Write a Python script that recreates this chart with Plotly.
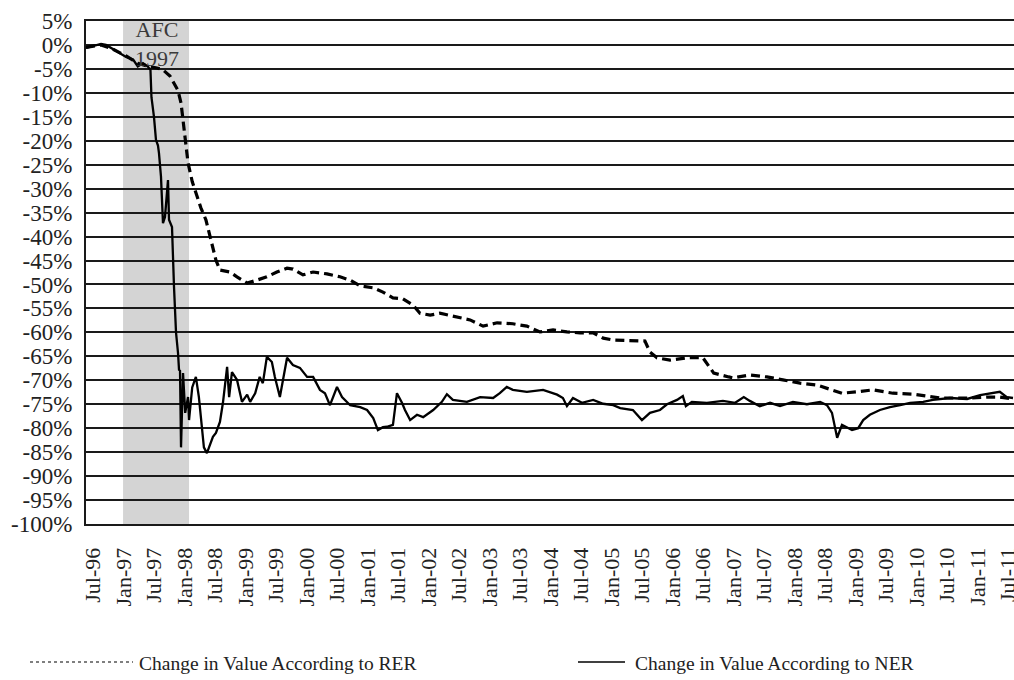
import plotly.graph_objects as go

# ---------------- data ----------------
ner_dates = [
    "1996-05-20", "1996-06-10", "1996-07-05", "1996-08-18", "1996-09-17", "1996-10-23", "1996-12-04",
    "1997-01-15", "1997-02-27", "1997-03-26", "1997-04-26", "1997-05-25", "1997-06-10", "1997-06-16",
    "1997-07-01", "1997-07-13", "1997-07-25", "1997-07-31", "1997-08-12", "1997-08-24", "1997-09-05",
    "1997-09-23", "1997-09-29", "1997-10-17", "1997-10-29", "1997-11-10", "1997-11-22", "1997-11-28",
    "1997-12-04", "1997-12-10", "1997-12-22", "1998-01-04", "1998-01-21", "1998-01-27", "1998-02-15",
    "1998-03-09", "1998-03-27", "1998-04-26", "1998-05-14", "1998-06-19", "1998-07-07", "1998-07-31",
    "1998-08-18", "1998-09-12", "1998-09-24", "1998-10-11", "1998-11-10", "1998-12-10", "1999-01-10",
    "1999-01-28", "1999-02-27", "1999-03-26", "1999-04-14", "1999-05-08", "1999-06-07", "1999-06-25",
    "1999-07-25", "1999-08-12", "1999-09-06", "1999-10-11", "1999-11-22", "2000-01-04", "2000-02-09",
    "2000-03-21", "2000-04-20", "2000-05-20", "2000-07-01", "2000-07-31", "2000-09-18", "2000-11-17",
    "2000-12-28", "2001-02-03", "2001-03-03", "2001-04-02", "2001-04-26", "2001-06-01", "2001-06-25",
    "2001-07-25", "2001-08-12", "2001-09-12", "2001-10-23", "2001-11-29", "2002-01-28", "2002-03-21",
    "2002-04-20", "2002-05-26", "2002-08-18", "2002-11-05", "2003-01-22", "2003-03-03", "2003-04-14",
    "2003-05-20", "2003-08-12", "2003-11-17", "2004-02-09", "2004-03-15", "2004-04-08", "2004-05-14",
    "2004-07-07", "2004-09-12", "2004-11-11", "2005-01-10", "2005-02-21", "2005-05-08", "2005-07-01",
    "2005-08-18", "2005-10-17", "2005-11-28", "2006-01-27", "2006-03-03", "2006-03-21", "2006-04-26",
    "2006-07-25", "2006-10-29", "2007-01-10", "2007-03-03", "2007-04-08", "2007-06-07", "2007-08-07",
    "2007-10-06", "2007-12-22", "2008-03-15", "2008-06-02", "2008-07-13", "2008-08-12", "2008-09-12",
    "2008-10-11", "2008-12-10", "2009-01-16", "2009-02-15", "2009-03-27", "2009-05-26", "2009-07-25",
    "2009-09-24", "2009-11-23", "2010-02-09", "2010-04-08", "2010-07-19", "2010-10-30", "2011-01-16",
    "2011-03-15", "2011-05-14", "2011-06-25", "2011-08-01",
]
ner_values = [
    -0.6, -0.4, -0.2, 0.2, 0.0, -0.8, -1.7,
    -2.5, -3.1, -4.5, -3.8, -4.5, -5.2, -10.9,
    -15.0, -19.8, -21.0, -22.6, -27.5, -37.2, -35.9,
    -28.2, -36.5, -38.0, -50.5, -60.0, -64.3, -67.8,
    -68.0, -84.0, -68.5, -76.8, -73.5, -78.3, -71.5,
    -69.3, -73.5, -84.0, -85.2, -81.8, -81.0, -78.7,
    -74.7, -67.2, -73.5, -68.3, -69.9, -74.5, -73.0,
    -74.5, -72.7, -69.3, -70.6, -65.1, -66.2, -69.3,
    -73.5, -69.9, -65.3, -66.8, -67.4, -69.3, -69.3,
    -72.0, -72.7, -75.2, -71.4, -73.5, -75.2, -75.6,
    -76.2, -77.9, -80.4, -79.8, -79.7, -79.3, -72.7,
    -74.7, -76.2, -78.3, -77.2, -77.7, -76.2, -74.5,
    -72.9, -74.1, -74.5, -73.5, -73.7, -72.7, -71.4,
    -72.0, -72.4, -72.0, -73.0, -73.7, -75.4, -73.7,
    -74.7, -74.1, -74.9, -75.2, -75.8, -76.2, -78.3,
    -76.8, -76.2, -75.0, -74.1, -73.3, -75.4, -74.5,
    -74.7, -74.3, -74.7, -73.5, -74.3, -75.4, -74.7,
    -75.4, -74.5, -75.0, -74.5, -75.2, -76.8, -82.0,
    -79.3, -80.4, -80.0, -78.3, -77.2, -76.2, -75.6,
    -75.2, -74.7, -74.5, -74.1, -73.7, -73.9, -73.1,
    -72.7, -72.4, -73.5, -73.7,
]

rer_dates = [
    "1996-05-20", "1996-08-18", "1996-10-23", "1997-01-15", "1997-03-26", "1997-06-01", "1997-07-19",
    "1997-08-24", "1997-10-05", "1997-10-29", "1997-11-22", "1997-12-10", "1997-12-28", "1998-01-21",
    "1998-02-15", "1998-03-09", "1998-04-08", "1998-05-08", "1998-06-01", "1998-06-19", "1998-07-07",
    "1998-07-31", "1998-09-29", "1998-11-10", "1999-01-10", "1999-03-09", "1999-05-08", "1999-07-07",
    "1999-09-06", "1999-10-11", "1999-12-10", "2000-02-09", "2000-05-02", "2000-07-19", "2000-09-18",
    "2000-11-17", "2001-02-03", "2001-04-02", "2001-06-01", "2001-07-31", "2001-09-29", "2001-11-10",
    "2002-01-10", "2002-03-09", "2002-06-19", "2002-09-06", "2002-11-23", "2003-02-15", "2003-05-20",
    "2003-08-12", "2003-10-29", "2004-01-16", "2004-04-08", "2004-06-25", "2004-09-12", "2004-11-11",
    "2005-01-10", "2005-05-08", "2005-07-19", "2005-08-18", "2005-09-29", "2005-12-16", "2006-03-27",
    "2006-07-01", "2006-07-25", "2006-09-04", "2006-12-03", "2006-12-28", "2007-04-08", "2007-07-19",
    "2007-10-23", "2008-02-03", "2008-05-14", "2008-07-31", "2008-10-11", "2009-01-10", "2009-04-14",
    "2009-08-12", "2009-12-10", "2010-03-03", "2010-05-20", "2010-08-07", "2010-11-17", "2011-02-27",
    "2011-05-14", "2011-08-01",
]
rer_values = [
    -0.5, 0.0, -0.8, -2.3, -3.8, -4.5, -4.8,
    -5.2, -6.5, -7.9, -9.5, -12.1, -17.7, -24.6,
    -28.5, -30.9, -34.0, -36.5, -40.0, -42.8, -44.9,
    -47.0, -47.4, -48.4, -49.7, -49.1, -48.4, -47.4,
    -46.6, -46.8, -48.0, -47.4, -47.8, -48.4, -49.1,
    -50.3, -50.7, -51.6, -52.8, -53.0, -54.3, -56.0,
    -56.4, -56.0, -56.8, -57.4, -58.7, -58.0, -58.2,
    -58.7, -59.9, -59.5, -59.9, -60.1, -60.1, -61.2,
    -61.6, -61.8, -61.8, -64.1, -65.3, -65.8, -65.3,
    -65.3, -66.4, -68.5, -69.3, -69.5, -68.9, -69.3,
    -69.9, -70.6, -71.0, -71.8, -72.7, -72.4, -72.0,
    -72.7, -72.9, -73.3, -73.7, -73.7, -73.7, -73.5,
    -73.5, -73.9,
]

crisis_period = ["1996-12-28", "1998-01-27"]
crisis_label = "AFC<br>1997"

tick_dates = [f"{y}-{m:02d}-01" for y in range(1996, 2012) for m in (1, 7)
              if "1996-07-01" <= f"{y}-{m:02d}-01" <= "2011-07-01"]
tick_labels = [("Jan-" if d[5:7] == "01" else "Jul-") + d[2:4] for d in tick_dates]

y_ticks = list(range(-100, 10, 5))
y_tick_labels = [f"{v}%" for v in y_ticks]

series_names = ["Change in Value According to RER", "Change in Value According to NER"]

# ---------------- layout helpers (pixel -> paper) ----------------
W, H = 1014, 680
L, R, T, B = 86, 0, 21, 156
PW, PH = W - L - R, H - T - B


def px(x):
    return (x - L) / PW


def py(y):
    return (H - B - y) / PH


FONT = "Liberation Serif, Times New Roman, serif"

fig = go.Figure()

fig.add_trace(go.Scatter(
    x=rer_dates, y=rer_values, mode="lines", name=series_names[0],
    line=dict(color="black", width=3.2, dash="9px,5px"), showlegend=False,
))
fig.add_trace(go.Scatter(
    x=ner_dates, y=ner_values, mode="lines", name=series_names[1],
    line=dict(color="black", width=2.3), showlegend=False,
))

# shaded crisis band
fig.add_vrect(x0=crisis_period[0], x1=crisis_period[1], fillcolor="#d4d4d4",
              line_width=0, layer="below")

fig.add_annotation(x=crisis_period[0], xref="x", y=1.0, yref="paper",
                   text=crisis_label, showarrow=False, xanchor="left", yanchor="top",
                   xshift=-1, yshift=6, font=dict(family=FONT, size=22, color="#3a3a3a"),
                   align="center", width=66)

# custom legend at the bottom
fig.add_shape(type="line", xref="paper", yref="paper", x0=px(30), x1=px(133), y0=py(662), y1=py(662),
              line=dict(color="black", width=1.2, dash="dot"))
fig.add_annotation(xref="paper", yref="paper", x=px(137), y=py(663), text=series_names[0],
                   showarrow=False, xanchor="left", yanchor="middle",
                   font=dict(family=FONT, size=19.5, color="#222"))
fig.add_shape(type="line", xref="paper", yref="paper", x0=px(578), x1=px(625), y0=py(662), y1=py(662),
              line=dict(color="black", width=1.5))
fig.add_annotation(xref="paper", yref="paper", x=px(633), y=py(663), text=series_names[1],
                   showarrow=False, xanchor="left", yanchor="middle",
                   font=dict(family=FONT, size=19.5, color="#222"))

fig.update_layout(
    width=W, height=H,
    margin=dict(l=L, r=R, t=T, b=B, autoexpand=False),
    paper_bgcolor="white", plot_bgcolor="white",
    font=dict(family=FONT, size=21, color="#222"),
    xaxis=dict(
        type="date", range=["1996-05-20", "2011-08-07"],
        tickmode="array", tickvals=tick_dates, ticktext=tick_labels,
        tickangle=-90, tickfont=dict(size=22), ticks="",
        ticklabelstandoff=13, automargin=False, ticklabeloverflow="allow",
        showgrid=False, zeroline=False,
        showline=True, linecolor="#1a1a1a", linewidth=2, mirror=True,
    ),
    yaxis=dict(
        range=[-100, 5], tickmode="array", tickvals=y_ticks, ticktext=y_tick_labels,
        tickfont=dict(size=23), ticks="", ticklabelstandoff=7, automargin=False,
        ticklabeloverflow="allow",
        showgrid=True, gridcolor="#1a1a1a", gridwidth=2, zeroline=False,
        showline=True, linecolor="#1a1a1a", linewidth=2, mirror=True,
    ),
)

fig.write_html("out.html", config={"displayModeBar": False},
               post_script="document.body.style.margin='0';document.body.style.overflow='hidden';")
